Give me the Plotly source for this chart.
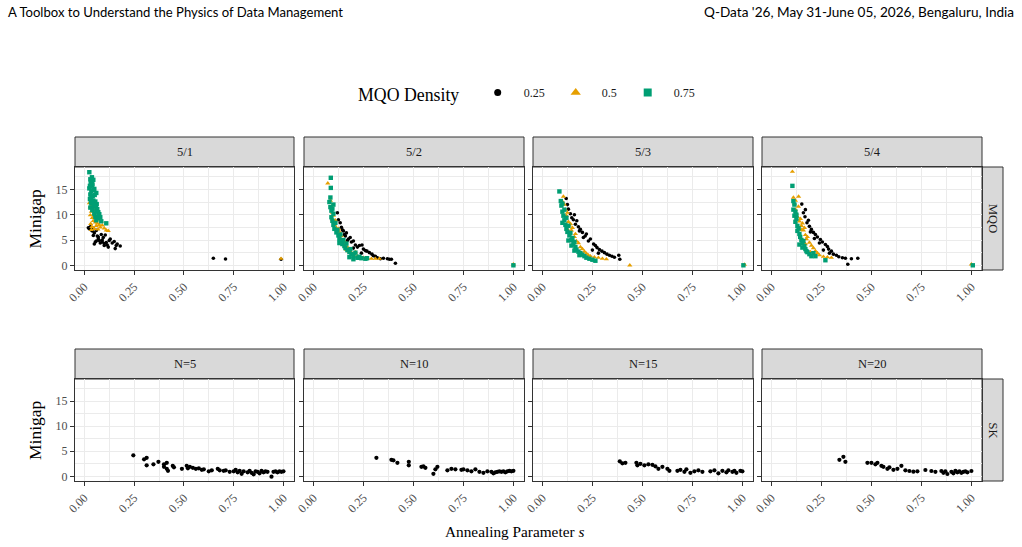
import plotly.graph_objects as go

# ---------------- data ----------------
mqo_panels = ["5/1", "5/2", "5/3", "5/4"]
sk_panels = ["N=5", "N=10", "N=15", "N=20"]
densities = ["0.25", "0.5", "0.75"]

# MQO 5/1
m1_b_s = [0.02,0.025,0.03,0.035,0.04,0.045,0.05,0.055,0.06,0.065,0.07,0.075,0.08,0.085,0.09,0.095,0.1,0.105,0.11,0.115,0.12,0.125,0.13,0.14,0.15,0.155,0.16,0.165,0.18,0.05,0.06,0.07,0.045,0.09,0.1,0.648,0.709,0.988]
m1_b_g = [7.4,7.2,7.6,7.0,6.8,7.3,6.4,4.6,6.9,5.8,5.2,4.9,4.4,6.1,5.0,5.5,4.3,6.0,4.5,4.0,3.6,4.9,5.2,4.4,4.7,3.3,3.9,4.2,3.8,4.2,4.8,5.6,5.9,4.6,3.9,1.4,1.25,1.2]
m1_o_s = [0.025,0.03,0.032,0.035,0.038,0.04,0.042,0.045,0.048,0.05,0.052,0.055,0.058,0.06,0.062,0.065,0.068,0.07,0.075,0.08,0.085,0.09,0.1,0.11,0.12,0.03,0.04,0.05,0.06,0.035,0.988]
m1_o_g = [12.3,11.5,8.2,10.6,7.6,9.4,11.9,8.8,10.1,7.2,9.7,8.5,10.9,7.8,9.1,8.3,7.1,9.5,8.0,7.5,8.7,7.9,7.3,6.9,6.8,9.9,12.8,11.2,8.9,7.0,1.3]
m1_g_s = [0.025,0.025,0.028,0.03,0.03,0.032,0.035,0.035,0.038,0.04,0.04,0.042,0.045,0.045,0.048,0.05,0.05,0.052,0.055,0.055,0.058,0.06,0.06,0.062,0.065,0.068,0.07,0.072,0.075,0.08,0.085,0.03,0.04,0.05,0.035,0.045,0.11,0.06,0.028,0.033]
m1_g_g = [18.4,15.2,13.1,17.0,11.4,16.3,14.6,12.2,17.4,15.8,10.9,13.7,16.9,12.8,11.6,15.1,10.2,13.9,12.6,9.6,11.8,14.3,10.7,12.1,11.1,9.3,10.5,9.8,10.1,9.5,8.7,14.0,16.1,11.9,13.4,14.9,8.3,8.9,15.7,12.5]

# MQO 5/2
m2_b_s = [0.12,0.125,0.134,0.14,0.15,0.16,0.165,0.175,0.184,0.19,0.2,0.21,0.22,0.23,0.243,0.25,0.26,0.268,0.28,0.293,0.3,0.31,0.32,0.335,0.35,0.37,0.38,0.39,0.41,0.145,0.155,0.17,0.2,0.24]
m2_b_g = [10.4,9.0,8.4,7.5,6.8,5.8,6.4,5.2,5.5,4.6,4.8,4.0,3.6,3.9,4.0,3.2,2.9,2.8,2.5,2.2,1.9,1.8,1.5,1.3,1.4,1.3,1.2,1.2,0.4,7.0,6.1,4.9,3.4,2.4]
m2_o_s = [0.072,0.085,0.09,0.095,0.1,0.1,0.105,0.11,0.115,0.12,0.125,0.13,0.135,0.14,0.15,0.155,0.16,0.17,0.175,0.18,0.19,0.2,0.21,0.22,0.23,0.25,0.27,0.29,0.31,0.33,0.095,0.13,0.165,1.0]
m2_o_g = [16.2,12.8,11.6,10.4,9.8,8.6,8.0,8.9,7.4,6.7,7.2,6.0,5.3,5.8,4.6,4.0,4.5,3.6,2.8,3.2,2.5,2.2,2.6,1.8,1.6,1.5,1.4,1.3,1.3,1.3,9.1,6.6,3.1,0.2]
m2_g_s = [0.087,0.087,0.08,0.085,0.09,0.09,0.1,0.095,0.1,0.105,0.11,0.115,0.12,0.125,0.13,0.135,0.14,0.145,0.15,0.155,0.16,0.165,0.17,0.18,0.185,0.19,0.2,0.21,0.22,0.23,0.24,0.26,0.2,0.1,0.085,0.095,0.13,0.18,0.226,0.268,1.0]
m2_g_g = [17.3,15.3,12.5,11.5,10.8,9.5,10.2,8.8,8.0,7.2,8.4,6.5,7.0,5.9,5.2,6.1,4.8,4.2,5.0,3.8,3.4,4.3,3.0,2.6,3.2,2.2,1.9,2.5,1.5,1.7,1.4,1.3,1.2,12.0,13.4,11.2,4.4,1.6,1.5,1.4,0.0]

# MQO 5/3
m3_b_s = [0.119,0.125,0.13,0.14,0.147,0.155,0.165,0.172,0.18,0.19,0.2,0.214,0.22,0.23,0.24,0.256,0.265,0.273,0.285,0.298,0.31,0.323,0.335,0.348,0.36,0.382,0.387,0.16,0.185,0.205,0.25,0.28]
m3_b_g = [13.2,12.0,11.1,10.2,9.4,9.0,8.1,8.8,7.6,7.1,6.5,5.8,6.2,4.8,5.2,4.2,3.9,3.5,3.1,2.8,2.5,2.2,2.0,1.8,1.6,2.0,1.2,10.0,6.8,5.5,3.0,2.4]
m3_o_s = [0.105,0.1,0.11,0.115,0.12,0.125,0.13,0.135,0.14,0.145,0.15,0.16,0.165,0.17,0.18,0.19,0.2,0.21,0.22,0.23,0.24,0.26,0.28,0.3,0.32,0.115,0.125,0.15,0.437,1.01]
m3_o_g = [13.6,12.6,12.0,11.0,9.8,10.4,8.6,7.9,8.2,6.9,7.4,5.6,6.2,4.8,4.4,3.6,3.2,2.7,2.3,2.0,1.8,1.6,1.5,1.3,1.2,9.2,7.1,5.0,0.0,0.15]
m3_g_s = [0.085,0.092,0.095,0.1,0.1,0.105,0.11,0.11,0.115,0.12,0.12,0.125,0.13,0.135,0.14,0.145,0.15,0.155,0.16,0.165,0.17,0.18,0.19,0.2,0.21,0.22,0.235,0.25,0.265,0.1,0.13,0.145,0.16,0.185,1.005]
m3_g_g = [14.6,12.7,11.8,12.2,10.6,9.8,11.0,8.9,8.0,9.4,7.2,6.6,7.8,5.9,6.4,5.0,5.4,4.2,4.6,3.6,3.1,2.7,2.4,2.1,1.8,1.5,1.3,1.1,0.9,8.4,4.9,3.9,2.9,2.0,0.0]

# MQO 5/4
m4_b_s = [0.152,0.16,0.168,0.178,0.185,0.19,0.2,0.21,0.22,0.23,0.245,0.255,0.27,0.28,0.286,0.3,0.31,0.325,0.337,0.355,0.37,0.382,0.4,0.432,0.17,0.195,0.215,0.24,0.26,0.29]
m4_b_g = [12.1,10.4,9.6,8.4,8.9,7.7,7.1,6.5,6.1,5.6,5.1,4.6,4.1,3.7,3.2,2.8,2.2,2.0,1.7,1.5,1.4,0.2,1.3,1.4,11.0,6.6,5.3,4.4,3.0,2.4]
m4_o_s = [0.105,0.11,0.115,0.12,0.125,0.13,0.136,0.14,0.145,0.15,0.155,0.16,0.165,0.17,0.175,0.18,0.19,0.2,0.21,0.22,0.23,0.24,0.26,0.28,0.3,0.12,0.135,0.15,0.17,0.195,1.0]
m4_o_g = [18.5,13.4,12.2,11.0,10.2,9.6,13.6,8.7,9.2,7.8,8.3,6.9,7.4,6.0,5.2,5.6,4.5,3.9,3.4,2.8,2.4,2.0,1.7,1.6,1.5,12.8,11.6,7.0,4.2,2.6,0.2]
m4_g_s = [0.105,0.11,0.11,0.115,0.115,0.12,0.12,0.125,0.13,0.13,0.136,0.14,0.144,0.15,0.155,0.16,0.165,0.17,0.18,0.19,0.2,0.21,0.22,0.27,0.125,0.14,0.155,0.175,1.007]
m4_g_g = [15.7,12.7,11.0,12.0,9.8,10.6,8.6,9.2,7.8,6.8,7.3,6.2,5.6,5.0,4.4,4.8,3.8,3.2,2.6,2.2,1.8,2.4,1.8,1.0,10.0,4.1,3.5,2.8,0.0]

# SK (single density)
sk1_s = [0.246,0.3,0.313,0.313,0.347,0.372,0.4,0.4,0.414,0.414,0.42,0.444,0.45,0.49,0.514,0.52,0.53,0.545,0.56,0.575,0.59,0.6,0.625,0.64,0.67,0.68,0.7,0.71,0.73,0.75,0.76,0.77,0.78,0.79,0.8,0.82,0.83,0.84,0.85,0.86,0.87,0.88,0.89,0.9,0.91,0.92,0.94,0.95,0.96,0.97,0.98,0.99,1.0]
sk1_g = [4.2,3.4,3.7,2.2,2.4,2.9,2.4,1.9,2.7,1.5,1.1,2.1,1.8,1.5,2.1,1.6,1.9,1.7,1.5,1.6,1.3,1.4,1.0,1.2,1.5,1.2,1.1,1.2,0.9,1.0,1.3,0.8,1.1,0.5,1.0,0.8,1.1,0.7,0.4,1.0,0.9,0.6,1.1,0.8,1.0,0.9,-0.07,0.9,1.0,0.8,1.0,0.9,1.0]
sk2_s = [0.315,0.39,0.4,0.42,0.477,0.477,0.54,0.55,0.56,0.6,0.61,0.62,0.67,0.69,0.71,0.74,0.75,0.77,0.79,0.81,0.83,0.85,0.87,0.89,0.9,0.91,0.92,0.93,0.94,0.95,0.96,0.97,0.98,0.99,1.0]
sk2_g = [3.7,3.3,3.2,2.7,2.9,2.2,1.9,2.0,1.7,0.5,1.4,1.9,1.2,1.5,1.4,1.3,1.4,1.2,1.0,1.4,0.9,0.7,1.0,0.9,0.6,0.8,0.9,1.0,0.9,1.0,0.8,1.0,1.1,1.0,1.1]
sk3_s = [0.387,0.40,0.415,0.47,0.475,0.49,0.51,0.53,0.55,0.565,0.58,0.6,0.625,0.635,0.675,0.69,0.71,0.72,0.74,0.76,0.78,0.8,0.84,0.86,0.88,0.9,0.92,0.93,0.95,0.96,0.97,0.99,1.0]
sk3_g = [3.0,2.6,2.7,2.7,2.2,2.5,2.2,2.4,2.3,2.0,1.5,1.9,1.5,1.1,1.1,1.3,0.9,1.4,0.7,1.0,1.2,0.9,1.0,1.2,0.6,1.1,0.8,1.2,0.9,1.1,0.7,1.1,1.0]
sk4_s = [0.34,0.36,0.37,0.48,0.5,0.52,0.53,0.55,0.56,0.58,0.59,0.61,0.63,0.65,0.67,0.69,0.71,0.73,0.77,0.8,0.82,0.85,0.86,0.87,0.88,0.9,0.91,0.92,0.93,0.94,0.95,0.96,0.97,0.98,1.0]
sk4_g = [3.3,3.9,2.9,2.7,2.7,2.4,2.7,2.1,1.9,1.5,1.8,1.3,1.5,2.1,1.2,1.07,0.93,1.0,1.27,1.07,0.9,1.07,0.7,1.0,0.47,0.9,0.6,1.1,0.8,1.0,0.7,0.9,1.0,0.8,1.07]

mqo_data = [
    [(m1_b_s, m1_b_g), (m1_o_s, m1_o_g), (m1_g_s, m1_g_g)],
    [(m2_b_s, m2_b_g), (m2_o_s, m2_o_g), (m2_g_s, m2_g_g)],
    [(m3_b_s, m3_b_g), (m3_o_s, m3_o_g), (m3_g_s, m3_g_g)],
    [(m4_b_s, m4_b_g), (m4_o_s, m4_o_g), (m4_g_s, m4_g_g)],
]
sk_data = [(sk1_s, sk1_g), (sk2_s, sk2_g), (sk3_s, sk3_g), (sk4_s, sk4_g)]

x_ticks = [0, 0.25, 0.5, 0.75, 1.0]
x_ticklabels = ["0.00", "0.25", "0.50", "0.75", "1.00"]
y_ticks = [0, 5, 10, 15]

# ---------------- style ----------------
W, H = 1022, 547
colors = ["#000000", "#E69F00", "#009E73"]
symbols = ["circle", "triangle-up", "square"]
sizes = [3.6, 4.6, 4.4]
SERIF = "Liberation Serif"
SANS = "Lato"

col_px = [(75, 294), (304, 524), (533, 753), (762, 982)]
row_px = [(167, 270), (379, 481)]
strip_top = [137, 349]

def fx(px):
    return px / W

def fy(py):
    return 1 - py / H

fig = go.Figure()
layout = {}

for r in range(2):
    for c in range(4):
        idx = r * 4 + c + 1
        xa = "x" if idx == 1 else f"x{idx}"
        ya = "y" if idx == 1 else f"y{idx}"
        if r == 0:
            for k in range(3):
                s, g = mqo_data[c][k]
                fig.add_trace(go.Scatter(
                    x=s, y=g, mode="markers", xaxis=xa, yaxis=ya,
                    marker=dict(color=colors[k], symbol=symbols[k], size=sizes[k], line=dict(width=0)),
                    showlegend=False, hoverinfo="skip"))
        else:
            s, g = sk_data[c]
            fig.add_trace(go.Scatter(
                x=s, y=g, mode="markers", xaxis=xa, yaxis=ya,
                marker=dict(color=colors[0], symbol="circle", size=4.2, line=dict(width=0)),
                showlegend=False, hoverinfo="skip"))
        x0, x1 = col_px[c]
        y0, y1 = row_px[r]
        common = dict(showline=True, mirror=True, linecolor="#333333", linewidth=1,
                      ticks="outside", ticklen=4, tickwidth=1, tickcolor="#333333",
                      showgrid=True, gridcolor="#EBEBEB", gridwidth=1.1, zeroline=False,
                      tickfont=dict(family=SERIF, size=12, color="#4D4D4D"),
                      fixedrange=True, automargin=False)
        layout["xaxis" + ("" if idx == 1 else str(idx))] = dict(
            common, domain=[fx(x0), fx(x1)], anchor=ya, range=[-0.047, 1.053],
            tickmode="array", tickvals=x_ticks, ticktext=x_ticklabels, tickangle=-45,
            minor=dict(tickvals=[0.125, 0.375, 0.625, 0.875], showgrid=True,
                       gridcolor="#EBEBEB", gridwidth=0.6, ticks=""))
        layout["yaxis" + ("" if idx == 1 else str(idx))] = dict(
            common, domain=[fy(y1), fy(y0)], anchor=xa, range=[-0.93, 19.43],
            tickmode="array", tickvals=y_ticks, showticklabels=(c == 0),
            minor=dict(tickvals=[2.5, 7.5, 12.5, 17.5], showgrid=True,
                       gridcolor="#EBEBEB", gridwidth=0.6, ticks=""))

# legend-only traces
for k in range(3):
    fig.add_trace(go.Scatter(
        x=[None], y=[None], mode="markers", name=densities[k],
        marker=dict(color=colors[k], symbol=symbols[k], size=[7, 9, 8][k], line=dict(width=0)),
        showlegend=True))

shapes = []
annotations = []
strip_labels = [mqo_panels, sk_panels]
for r in range(2):
    for c in range(4):
        x0, x1 = col_px[c]
        shapes.append(dict(type="rect", xref="paper", yref="paper",
                           x0=fx(x0), x1=fx(x1), y0=fy(row_px[r][0]), y1=fy(strip_top[r]),
                           fillcolor="#D9D9D9", line=dict(color="#333333", width=1), layer="below"))
        annotations.append(dict(text=strip_labels[r][c], xref="paper", yref="paper",
                                x=fx((x0 + x1) / 2), y=fy((strip_top[r] + row_px[r][0]) / 2),
                                showarrow=False, xanchor="center", yanchor="middle",
                                font=dict(family=SERIF, size=12.5, color="#1A1A1A")))
    # right strip
    shapes.append(dict(type="rect", xref="paper", yref="paper",
                       x0=fx(982), x1=fx(1003), y0=fy(row_px[r][1]), y1=fy(row_px[r][0]),
                       fillcolor="#D9D9D9", line=dict(color="#333333", width=1), layer="below"))
    annotations.append(dict(text=["MQO", "SK"][r], xref="paper", yref="paper",
                            x=fx(992.5), y=fy((row_px[r][0] + row_px[r][1]) / 2),
                            showarrow=False, textangle=90, xanchor="center", yanchor="middle",
                            font=dict(family=SERIF, size=12.5, color="#1A1A1A")))
    # y title
    annotations.append(dict(text="Minigap", xref="paper", yref="paper",
                            x=fx(35), y=fy((row_px[r][0] + row_px[r][1]) / 2),
                            showarrow=False, textangle=-90, xanchor="center", yanchor="middle",
                            font=dict(family=SERIF, size=17.5, color="#000000")))

annotations.append(dict(text="Annealing Parameter <i>s</i>", xref="paper", yref="paper",
                        x=fx(514), y=fy(531), showarrow=False, xanchor="center", yanchor="middle",
                        font=dict(family=SERIF, size=15.3, color="#000000")))
annotations.append(dict(text="A Toolbox to Understand the Physics of Data Management",
                        xref="paper", yref="paper", x=fx(6), y=fy(12), showarrow=False,
                        xanchor="left", yanchor="middle",
                        font=dict(family=SANS, size=13.1, color="#000000")))
annotations.append(dict(text="Q-Data '26, May 31-June 05, 2026, Bengaluru, India",
                        xref="paper", yref="paper", x=fx(1016), y=fy(12), showarrow=False,
                        xanchor="right", yanchor="middle",
                        font=dict(family=SANS, size=13.6, color="#000000")))

fig.update_layout(
    template="none",
    width=W, height=H, margin=dict(l=0, r=0, t=0, b=0),
    paper_bgcolor="white", plot_bgcolor="white",
    shapes=shapes, annotations=annotations,
    legend=dict(orientation="h", x=fx(356), y=fy(95), xanchor="left", yanchor="middle",
                title=dict(text="MQO Density ", font=dict(family=SERIF, size=17.8, color="#000000"), side="left"),
                font=dict(family=SERIF, size=12, color="#1A1A1A"),
                bgcolor="rgba(0,0,0,0)", itemwidth=42, traceorder="normal"),
    **layout,
)

fig.write_html("out.html")
